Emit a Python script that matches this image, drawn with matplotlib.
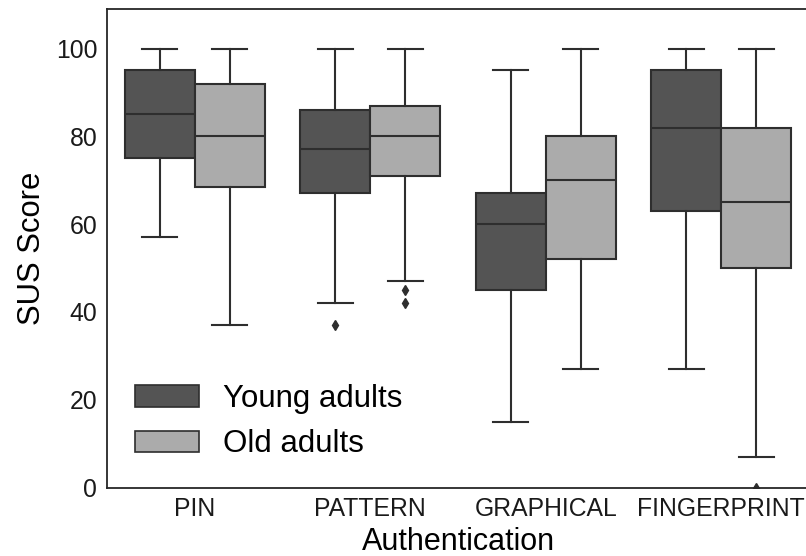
import matplotlib
matplotlib.use("Agg")
import matplotlib.pyplot as plt
from matplotlib.patches import Patch

plt.rcParams['font.family'] = ['Liberation Sans', 'DejaVu Sans']

categories = ['PIN', 'PATTERN', 'GRAPHICAL', 'FINGERPRINT']
groups = ['Young adults', 'Old adults']

# box stats, per group, per category
whislo = {'Young adults': [57, 42, 15, 27], 'Old adults': [37, 47, 27, 7]}
q1 = {'Young adults': [75, 67, 45, 63], 'Old adults': [68.5, 71, 52, 50]}
med = {'Young adults': [85, 77, 60, 82], 'Old adults': [80, 80, 70, 65]}
q3 = {'Young adults': [95, 86, 67, 95], 'Old adults': [92, 87, 80, 82]}
whishi = {'Young adults': [100, 100, 95, 100], 'Old adults': [100, 100, 100, 100]}
fliers = {'Young adults': [[], [37], [], []], 'Old adults': [[], [45, 42], [], [0]]}

colors = {'Young adults': '#545454', 'Old adults': '#ababab'}
line_col = '#2e2e2e'

fig = plt.figure(figsize=(8.06, 5.56), dpi=100)
ax = fig.add_axes([107 / 806, 68.5 / 556, 702 / 806, 478.5 / 556])

width = 0.4
for gi, g in enumerate(groups):
    stats = []
    for ci in range(len(categories)):
        stats.append({'whislo': whislo[g][ci], 'q1': q1[g][ci], 'med': med[g][ci],
                      'q3': q3[g][ci], 'whishi': whishi[g][ci], 'fliers': fliers[g][ci]})
    pos = [ci - width / 2 + gi * width for ci in range(len(categories))]
    ax.bxp(stats, positions=pos, widths=width, patch_artist=True, manage_ticks=False,
           capwidths=width / 2,
           boxprops=dict(facecolor=colors[g], edgecolor=line_col, linewidth=1.5),
           medianprops=dict(color=line_col, linewidth=1.5),
           whiskerprops=dict(color=line_col, linewidth=1.5),
           capprops=dict(color=line_col, linewidth=1.5),
           flierprops=dict(marker='d', markerfacecolor=line_col, markeredgecolor=line_col,
                           markersize=5))

ax.set_xlim(-0.5, 3.5)
ax.set_ylim(0, 109)
ax.set_xticks(range(len(categories)))
ax.set_xticklabels(categories)
ax.set_yticks([0, 20, 40, 60, 80, 100])
ax.tick_params(length=0, labelsize=17.8, pad=7, colors='#1a1a1a')
for s in ax.spines.values():
    s.set_color('#262626')
    s.set_linewidth(1.3)

ax.set_xlabel('Authentication', fontsize=22, labelpad=4)
ax.set_ylabel('SUS Score', fontsize=22.3, labelpad=6)

handles = [Patch(facecolor=colors[g], edgecolor=line_col, linewidth=1.2) for g in groups]
ax.legend(handles, groups, loc='lower left', frameon=False, fontsize=22.5,
          handlelength=2.05, handleheight=0.7, labelspacing=0.5, borderaxespad=0.5,
          handletextpad=0.75)

fig.savefig('out.png', dpi=100)
